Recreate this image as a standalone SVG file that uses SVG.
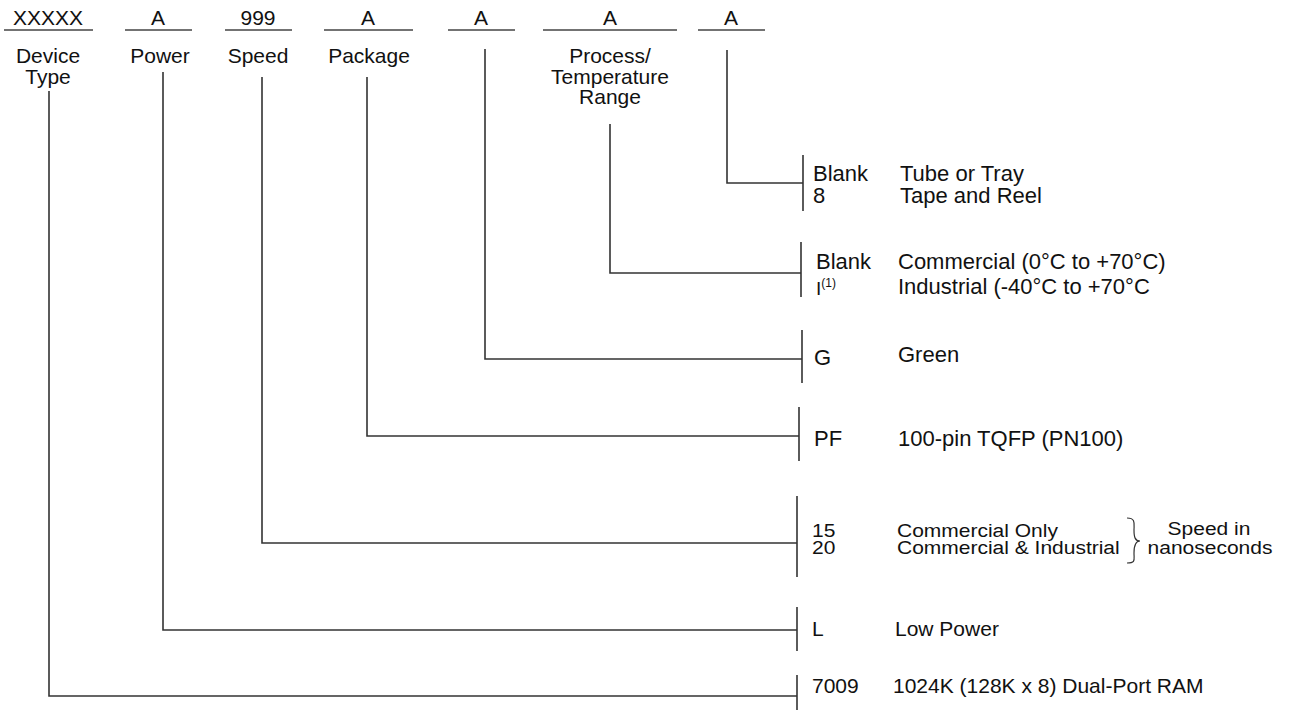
<svg xmlns="http://www.w3.org/2000/svg" width="1304" height="710" viewBox="0 0 1304 710">
<style>
text{font-family:"Liberation Sans",Arial,sans-serif;fill:#111;font-size:21px}
.c{text-anchor:middle}
.top{font-size:21px}
.w{font-size:22px}
line,path{stroke:#333;stroke-width:1.6;fill:none}
.u{stroke:#444;stroke-width:1.4}
</style>
<rect width="1304" height="710" fill="#fff"/>
<g id="field-device">
<text class="c top" x="48" y="25">XXXXX</text>
<line class="u" x1="4" y1="30" x2="93" y2="30"/>
<text class="c" x="48" y="63">Device</text>
<text class="c" x="48" y="84">Type</text>
</g>
<g id="field-power">
<text class="c top" x="158" y="25">A</text>
<line class="u" x1="125" y1="30" x2="192" y2="30"/>
<text class="c" x="160" y="63">Power</text>
</g>
<g id="field-speed">
<text class="c top" x="258" y="25">999</text>
<line class="u" x1="225" y1="30" x2="292" y2="30"/>
<text class="c" x="258" y="63">Speed</text>
</g>
<g id="field-package">
<text class="c top" x="368" y="25">A</text>
<line class="u" x1="324" y1="30" x2="413" y2="30"/>
<text class="c" x="369" y="63">Package</text>
</g>
<g id="field-green">
<text class="c top" x="481" y="25">A</text>
<line class="u" x1="448" y1="30" x2="515" y2="30"/>
</g>
<g id="field-temp">
<text class="c top" x="610" y="25">A</text>
<line class="u" x1="543" y1="30" x2="677" y2="30"/>
<text class="c" x="610" y="63">Process/</text>
<text class="c" x="610" y="84">Temperature</text>
<text class="c" x="610" y="104">Range</text>
</g>
<g id="field-tray">
<text class="c top" x="731" y="25">A</text>
<line class="u" x1="698" y1="30" x2="765" y2="30"/>
</g>
<g id="connectors">
<path d="M49 91 V696 H797"/>
<path d="M163 72 V630 H797"/>
<path d="M262 77 V543 H797"/>
<path d="M367 77 V436 H799"/>
<path d="M485 49 V359 H802"/>
<path d="M610 124 V273 H801"/>
<path d="M727 50 V183 H803"/>
</g>
<g id="opt-tray">
<line x1="803" y1="155" x2="803" y2="211"/>
<text class="w" x="813" y="181">Blank</text>
<text class="w" x="813" y="203">8</text>
<text class="w" x="900" y="181">Tube or Tray</text>
<text class="w" x="900" y="203">Tape and Reel</text>
</g>
<g id="opt-temp">
<line x1="801" y1="242" x2="801" y2="297"/>
<text class="w" x="816" y="269">Blank</text>
<text x="816" y="295" style="font-size:19px">I<tspan dy="-8" style="font-size:12px">(1)</tspan></text>
<text class="w" x="898" y="269">Commercial (0°C to +70°C)</text>
<text class="w" x="898" y="294">Industrial (-40°C to +70°C</text>
</g>
<g id="opt-green">
<line x1="802" y1="330" x2="802" y2="383"/>
<text class="w" x="814" y="365">G</text>
<text class="w" x="898" y="362">Green</text>
</g>
<g id="opt-package">
<line x1="799" y1="407" x2="799" y2="461"/>
<text class="w" x="814" y="446">PF</text>
<text class="w" x="898" y="446">100-pin TQFP (PN100)</text>
</g>
<g id="opt-speed">
<line x1="797" y1="496" x2="797" y2="577"/>
<text transform="translate(812 537) scale(1 0.84)">15</text>
<text transform="translate(812 554) scale(1 0.84)">20</text>
<text transform="translate(897 537) scale(1 0.84)">Commercial Only</text>
<text transform="translate(897 554) scale(1 0.84)">Commercial &amp; Industrial</text>
<path d="M1127 518 C1136 518 1134 524 1134 530 C1134 537 1135 541 1140 541 C1135 541 1134 546 1134 553 C1134 560 1136 563 1127 563" style="stroke-width:1.2"/>
<text class="c" transform="translate(1209 535) scale(1 0.88)">Speed in</text>
<text class="c" transform="translate(1210 554) scale(1 0.88)">nanoseconds</text>
</g>
<g id="opt-power">
<line x1="797" y1="607" x2="797" y2="651"/>
<text x="812" y="636">L</text>
<text x="895" y="636">Low Power</text>
</g>
<g id="opt-device">
<line x1="797" y1="675" x2="797" y2="710"/>
<text x="812" y="693">7009</text>
<text x="893" y="693">1024K (128K x 8) Dual-Port RAM</text>
</g>
</svg>
